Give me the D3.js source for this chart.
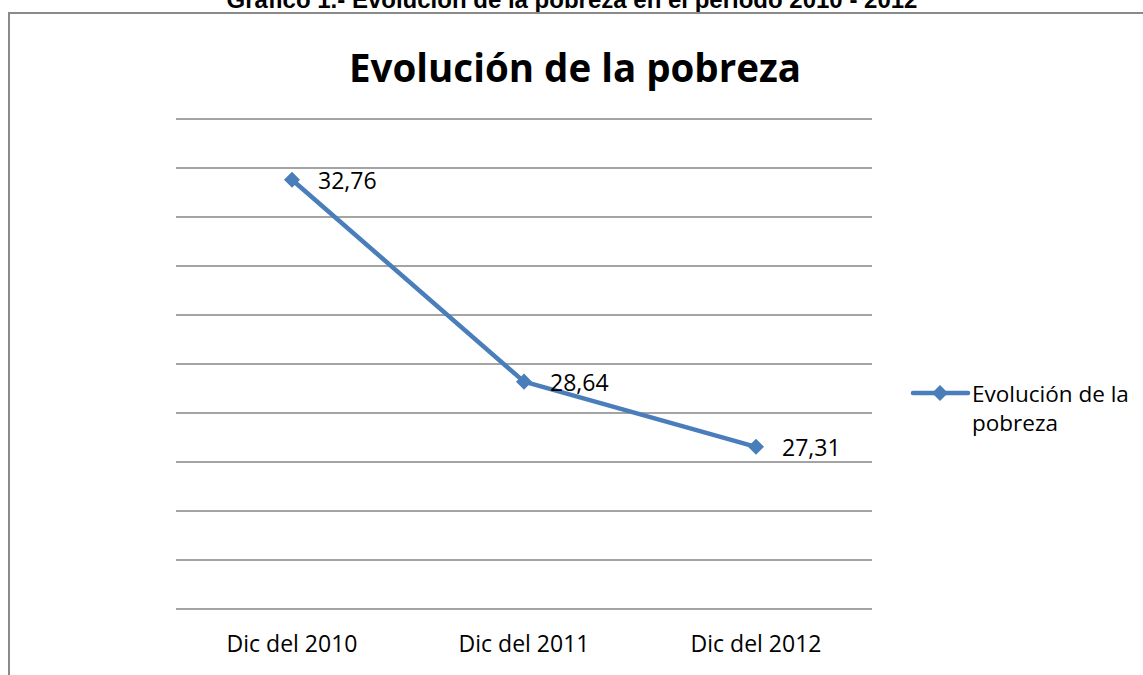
<!DOCTYPE html>
<html>
<head>
<meta charset="utf-8">
<script src="https://cdn.jsdelivr.net/npm/d3@7"></script>
<style>
    body { margin: 0; background: #fff; }
    svg { display: block; }
</style>
</head>
<body>
<div id="canvas"></div>
<script>
// data
const categories = ["Dic del 2010", "Dic del 2011", "Dic del 2012"];
const values = [32.76, 28.64, 27.31];
const seriesName = "Evolución de la pobreza";
const yTicks = d3.range(24, 35, 1);

const width = 1143;
const height = 675;
const plot = { left: 176, right: 872, top: 119, bottom: 609 };
const blue = "#4a7ebb";
const font = "'Open Sans', sans-serif";

const svg = d3.select("#canvas")
    .append("svg")
    .attr("width", width)
    .attr("height", height);

// caption above the chart box (cut off at the top, as in the source)
svg.append("text")
    .attr("x", 572)
    .attr("y", 8)
    .attr("text-anchor", "middle")
    .style("font-family", "'Liberation Sans', Arial, sans-serif")
    .style("font-weight", "bold")
    .style("font-size", "24px")
    .text("Gráfico 1.- Evolución de la pobreza en el período 2010 - 2012");

// chart border (top and left edges visible)
svg.append("path")
    .attr("d", `M9,${height} V13 H${width}`)
    .attr("fill", "none")
    .attr("stroke", "#8a8a8a")
    .attr("stroke-width", 2);

// scales
const x = d3.scaleBand()
    .domain(categories)
    .range([plot.left, plot.right]);

const y = d3.scaleLinear()
    .domain([24, 34])
    .range([plot.bottom, plot.top]);

// gridlines
svg.append("g")
    .selectAll("line")
    .data(yTicks)
    .join("line")
    .attr("x1", plot.left)
    .attr("x2", plot.right)
    .attr("y1", d => y(d))
    .attr("y2", d => y(d))
    .attr("stroke", "#868686")
    .attr("stroke-width", 1.5);

// x axis labels
const xAxis = d3.axisBottom(x).tickSize(0).tickPadding(27);
const gx = svg.append("g")
    .attr("transform", `translate(0,${plot.bottom})`)
    .call(xAxis);
gx.select(".domain").remove();
gx.selectAll("text")
    .style("font-family", font)
    .style("font-size", "23px")
    .attr("fill", "#000");

// title
svg.append("text")
    .attr("x", 575)
    .attr("y", 82)
    .attr("text-anchor", "middle")
    .style("font-family", font)
    .style("font-weight", "bold")
    .style("font-size", "38.5px")
    .text(seriesName);

const cx = d => x(d) + x.bandwidth() / 2;
const points = categories.map((c, i) => ({ cat: c, value: values[i] }));

// line
const line = d3.line()
    .x(d => cx(d.cat))
    .y(d => y(d.value));

svg.append("path")
    .datum(points)
    .attr("d", line)
    .attr("fill", "none")
    .attr("stroke", blue)
    .attr("stroke-width", 4.5)
    .attr("stroke-linejoin", "round");

// diamond markers
const diamond = d3.symbol().type(d3.symbolDiamond2).size(165);
svg.append("g")
    .selectAll("path")
    .data(points)
    .join("path")
    .attr("d", diamond)
    .attr("transform", d => `translate(${cx(d.cat)},${y(d.value)})`)
    .attr("fill", blue);

// data labels
svg.append("g")
    .selectAll("text")
    .data(points)
    .join("text")
    .attr("x", d => cx(d.cat) + 26)
    .attr("y", d => y(d.value) + 9)
    .style("font-family", font)
    .style("font-size", "23px")
    .text(d => d3.format(".2f")(d.value).replace(".", ","));

// legend
const legend = svg.append("g").attr("transform", "translate(913,393)");
legend.append("line")
    .attr("x1", 0)
    .attr("x2", 55)
    .attr("stroke", blue)
    .attr("stroke-width", 4.5)
    .attr("stroke-linecap", "round");
legend.append("path")
    .attr("d", diamond)
    .attr("transform", "translate(27,0)")
    .attr("fill", blue);
legend.append("text")
    .attr("x", 59)
    .attr("y", 9)
    .style("font-family", font)
    .style("font-size", "22.5px")
    .text("Evolución de la");
legend.append("text")
    .attr("x", 59)
    .attr("y", 38)
    .style("font-family", font)
    .style("font-size", "22.5px")
    .text("pobreza");
</script>
</body>
</html>
